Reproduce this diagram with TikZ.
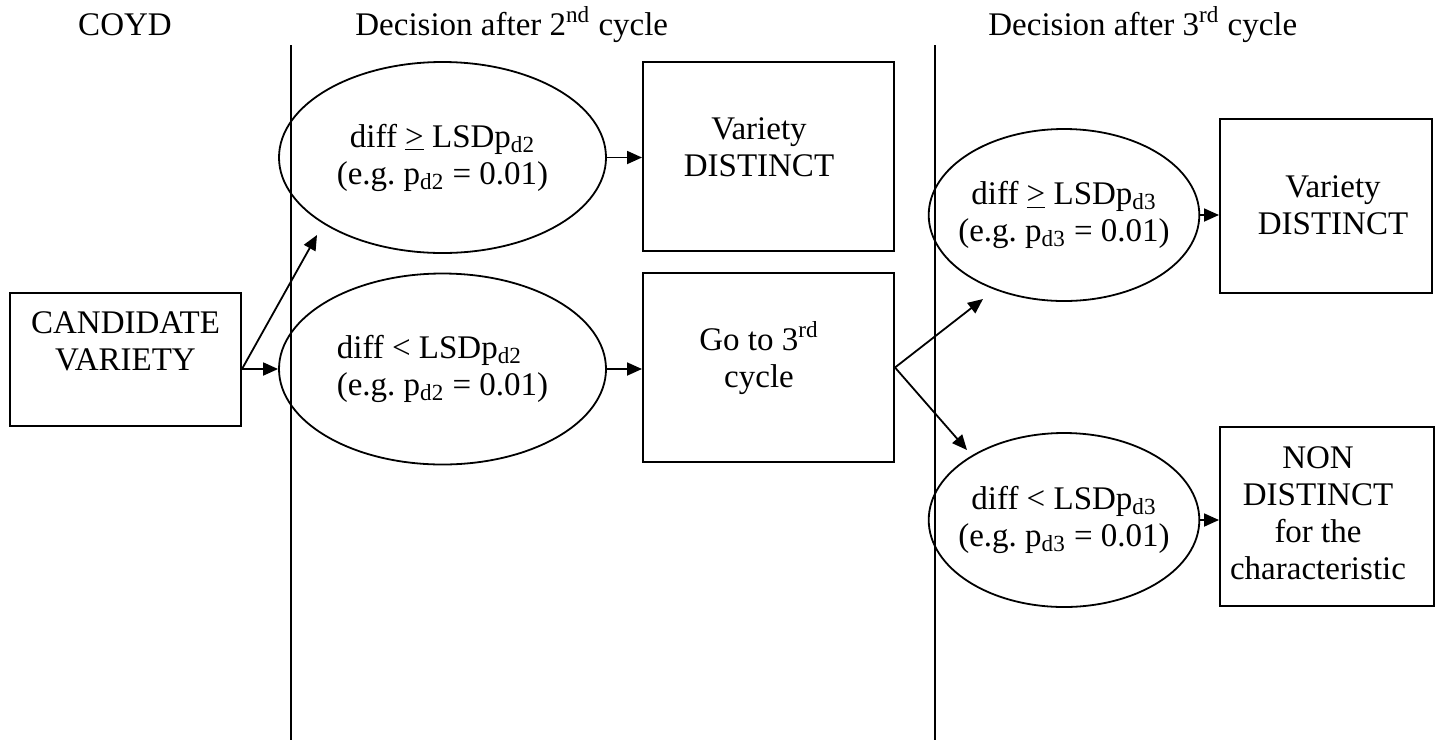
\documentclass[tikz,border=0pt]{standalone}
\usepackage{fontspec}
\setmainfont{Liberation Serif}
\usetikzlibrary{arrows.meta,shapes.geometric}
\frenchspacing

\begin{document}
\begin{tikzpicture}[x=0.5pt,y=-0.5pt,
  every node/.style={font=\fontsize{16.5}{18.5}\selectfont, inner sep=0pt},
  box/.style={draw, line width=1pt, rectangle},
  oval/.style={draw, line width=0.9pt, ellipse, align=center},
  txt/.style={align=center},
  flow/.style={line width=0.9pt, -{Triangle[length=7.5pt,width=6.5pt]}},
  rule/.style={line width=1pt}]
\useasboundingbox (0,0) rectangle (1438,740);

% column separators
\coordinate (l1t) at (291,45);  \coordinate (l1b) at (291,740);
\coordinate (l2t) at (935,45);  \coordinate (l2b) at (935,740);
\draw[rule] (l1t) -- (l1b);
\draw[rule] (l2t) -- (l2b);

% column headings
\node[anchor=base] (hcoyd) at (125,35) {COYD};
\node[anchor=base west] (hsecond) at (355,35) {Decision after 2\textsuperscript{nd} cycle};
\node[anchor=base west] (hthird) at (988,35) {Decision after 3\textsuperscript{rd} cycle};

% starting point
\node[box, minimum width=115.5pt, minimum height=66.5pt] (cand) at (125.5,359.5) {};
\node[txt] (candlbl) at (125.5,341) {CANDIDATE\\VARIETY};

% decisions after the 2nd cycle
\node[oval, minimum width=163.5pt, minimum height=95.5pt] (e1) at (442.5,157.5)
  {diff \underline{>} LSDp\textsubscript{d2}\\(e.g. p\textsubscript{d2} = 0.01)};
\node[oval, align=left, minimum width=163.5pt, minimum height=95.5pt] (e2) at (442.5,369)
  {diff < LSDp\textsubscript{d2}\\(e.g. p\textsubscript{d2} = 0.01)};

\node[box, minimum width=125.5pt, minimum height=94.5pt] (dist1) at (768.5,156.5) {};
\node[txt] (dist1lbl) at (759,147.5) {Variety\\DISTINCT};
\node[box, minimum width=125.5pt, minimum height=94.5pt] (go) at (768.5,367.5) {};
\node[txt] (golbl) at (759,358) {Go to 3\textsuperscript{rd}\\cycle};

% decisions after the 3rd cycle
\node[oval, inner xsep=-5pt, minimum width=132pt, minimum height=86pt] (e3) at (1064,215)
  {diff \underline{>} LSDp\textsubscript{d3}\\(e.g. p\textsubscript{d3} = 0.01)};
\node[oval, inner xsep=-5pt, minimum width=132pt, minimum height=87pt] (e4) at (1064,520)
  {diff < LSDp\textsubscript{d3}\\(e.g. p\textsubscript{d3} = 0.01)};

\node[box, minimum width=106pt, minimum height=87pt] (dist2) at (1326,206) {};
\node[txt] (dist2lbl) at (1333,205) {Variety\\DISTINCT};
\node[box, minimum width=107pt, minimum height=89.5pt] (nond) at (1327,516.5) {};
\node[txt] (nondlbl) at (1318,513.5) {NON\\DISTINCT\\for the\\characteristic};

% connectors
\coordinate (split1) at (cand.east |- e2.west);
\coordinate (t1) at (317,235);
\draw[flow] (split1) -- (e2.west);
\draw[flow] (split1) -- (t1);
\draw[flow] (e1.east) -- (e1.east -| dist1.west);
\draw[flow] (e2.east) -- (e2.east -| go.west);
\coordinate (t3) at (983,299);
\coordinate (t4) at (967,450);
\draw[flow] (go.east) -- (t3);
\draw[flow] (go.east) -- (t4);
\draw[flow] (e3.east) -- (e3.east -| dist2.west);
\draw[flow] (e4.east) -- (e4.east -| nond.west);
\end{tikzpicture}
\end{document}
